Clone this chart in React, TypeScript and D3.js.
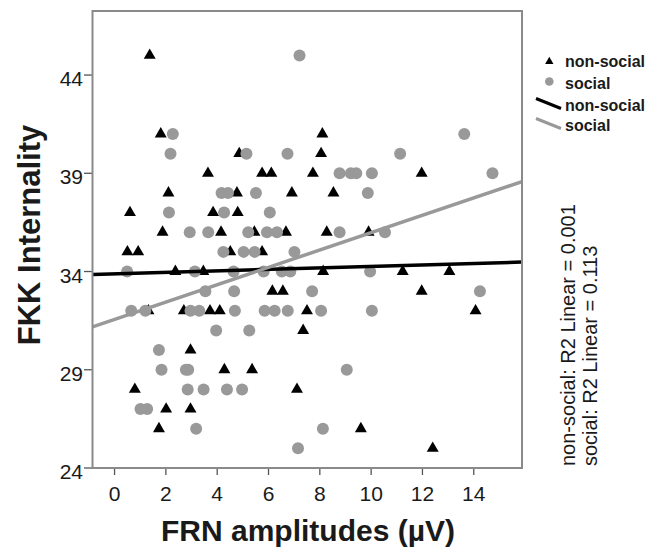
import React from 'react';
import * as d3 from 'd3';

const xTicks = [0, 2, 4, 6, 8, 10, 12, 14];
const yTicks = [24, 29, 34, 39, 44];

const nonSocialX = [1.37, 1.8, 8.1, 4.86, 8.05, 3.64, 5.75, 6.11, 7.73, 11.97, 2.1, 4.77, 6.91, 8.53, 0.6, 3.84, 4.8, 1.87, 4.15, 5.45, 6.68, 8.27, 9.9, 0.5, 0.92, 4.51, 5.75, 2.37, 3.46, 8.13, 11.23, 13.05, 6.15, 6.56, 11.97, 1.32, 2.7, 3.72, 4.1, 7.5, 14.07, 7.35, 2.96, 4.28, 5.36, 0.79, 7.11, 2.01, 2.96, 1.73, 9.6, 12.4];
const nonSocialY = [45, 41, 41, 40, 40, 39, 39, 39, 39, 39, 38, 38, 38, 38, 37, 37, 37, 36, 36, 36, 36, 36, 36, 35, 35, 35, 35, 34, 34, 34, 34, 34, 33, 33, 33, 32, 32, 32, 32, 32, 32, 31, 30, 29, 29, 28, 28, 27, 27, 26, 26, 25];

const socialX = [7.21, 2.27, 13.63, 2.18, 5.14, 6.74, 11.13, 8.77, 9.21, 9.42, 10.03, 14.73, 4.17, 4.42, 5.51, 9.87, 2.12, 4.27, 6.05, 2.93, 3.65, 5.21, 5.94, 6.33, 8.77, 10.54, 4.24, 5.03, 5.46, 7.01, 0.49, 3.13, 4.64, 5.81, 6.52, 6.85, 9.96, 3.54, 4.66, 7.7, 14.24, 0.65, 1.2, 2.96, 3.3, 4.69, 5.85, 6.24, 6.75, 8.05, 10.03, 3.96, 5.25, 1.73, 1.83, 2.78, 2.87, 9.05, 2.85, 3.47, 4.38, 4.97, 1.01, 1.27, 3.18, 8.12, 7.15];
const socialY = [45, 41, 41, 40, 40, 40, 40, 39, 39, 39, 39, 39, 38, 38, 38, 38, 37, 37, 37, 36, 36, 36, 36, 36, 36, 36, 35, 35, 35, 35, 34, 34, 34, 34, 34, 34, 34, 33, 33, 33, 33, 32, 32, 32, 32, 32, 32, 32, 32, 32, 32, 31, 31, 30, 29, 29, 29, 29, 28, 28, 28, 28, 27, 27, 26, 26, 25];

const fitNames = ['non-social', 'social'];
const fitIntercepts = [33.88, 31.56];
const fitSlopes = [0.038, 0.442];
const r2Values = ['0.001', '0.113'];

const FONT = "'Liberation Sans', Arial, Helvetica, sans-serif";

export default function App() {
  const W = 662, H = 551;
  const left = 92.5, right = 522, top = 11, bottom = 468;
  const x = d3.scaleLinear().domain([-0.86, 15.88]).range([left, right]);
  const y = d3.scaleLinear().domain([24, 47.26]).range([bottom, top]);

  const tri = d3.symbol().type(d3.symbolTriangle).size(62)() as string;
  const triSmall = d3.symbol().type(d3.symbolTriangle).size(30)() as string;

  const fitColors = ['#000000', '#999999'];
  const lineGen = d3.line<number>().x((d) => x(d)).y((d, i) => 0);

  const fitPath = (k: number) => {
    const xs = x.domain();
    const pts: [number, number][] = xs.map((v) => [x(v), y(fitIntercepts[k] + fitSlopes[k] * v)]);
    return d3.line()(pts) as string;
  };

  return (
    <svg width={W} height={H} style={{ position: 'absolute', left: 0, top: 0, background: '#fff' }} fontFamily={FONT}>
      <rect x={0} y={0} width={W} height={H} fill="#fff" />
      <defs>
        <clipPath id="plotclip">
          <rect x={left} y={top} width={right - left} height={bottom - top} />
        </clipPath>
      </defs>

      {/* y ticks */}
      {yTicks.map((t) => (
        <g key={'y' + t}>
          <line x1={84} x2={left} y1={y(t)} y2={y(t)} stroke="#555" strokeWidth={1.3} />
          <text x={83} y={y(t) + 11} textAnchor="end" fontSize={21} fill="#1a1a1a">{t}</text>
        </g>
      ))}
      {/* x ticks */}
      {xTicks.map((t) => (
        <g key={'x' + t}>
          <line x1={x(t)} x2={x(t)} y1={bottom} y2={bottom + 7} stroke="#555" strokeWidth={1.3} />
          <text x={x(t)} y={501} textAnchor="middle" fontSize={21} fill="#1a1a1a">{t}</text>
        </g>
      ))}

      {/* points */}
      <g>
        {nonSocialX.map((v, i) => (
          <path key={'n' + i} d={tri} transform={`translate(${x(v)},${y(nonSocialY[i])})`} fill="#000" />
        ))}
        {socialX.map((v, i) => (
          <circle key={'s' + i} cx={x(v)} cy={y(socialY[i])} r={6} fill="#999999" />
        ))}
      </g>

      {/* fit lines */}
      <g clipPath="url(#plotclip)">
        {fitNames.map((n, k) => (
          <path key={'f' + n} d={fitPath(k)} stroke={fitColors[k]} strokeWidth={3.5} fill="none" />
        ))}
      </g>

      {/* frame */}
      <rect x={left} y={top} width={right - left} height={bottom - top} fill="none" stroke="#8a8a8a" strokeWidth={2} />

      {/* axis titles */}
      <text x={308} y={541} textAnchor="middle" fontSize={30} fontWeight="bold" fill="#1a1a1a">FRN amplitudes (µV)</text>
      <text transform="translate(39.5,235) rotate(-90)" textAnchor="middle" fontSize={31} fontWeight="bold" fill="#1a1a1a">FKK Internality</text>

      {/* legend */}
      <g fontSize={16} fontWeight="bold" fill="#1a1a1a">
        <path d={triSmall} transform="translate(549.3,61.5)" fill="#000" />
        <text x={565} y={67.3}>{fitNames[0]}</text>
        <circle cx={549.3} cy={81.5} r={4.3} fill="#999999" />
        <text x={565} y={89.3}>{fitNames[1]}</text>
        <line x1={536} y1={98.5} x2={561} y2={108.5} stroke="#000" strokeWidth={3} />
        <text x={565} y={110.7}>{fitNames[0]}</text>
        <line x1={536} y1={118.5} x2={561} y2={128.5} stroke="#999999" strokeWidth={3} />
        <text x={565} y={130.7}>{fitNames[1]}</text>
      </g>

      {/* R2 annotations */}
      <g fontSize={20} fill="#1a1a1a">
        {fitNames.map((n, k) => (
          <text key={'r' + n} transform={`translate(${575 + k * 22},466) rotate(-90)`} textAnchor="start">
            {`${n}: R2 Linear = ${r2Values[k]}`}
          </text>
        ))}
      </g>
    </svg>
  );
}
